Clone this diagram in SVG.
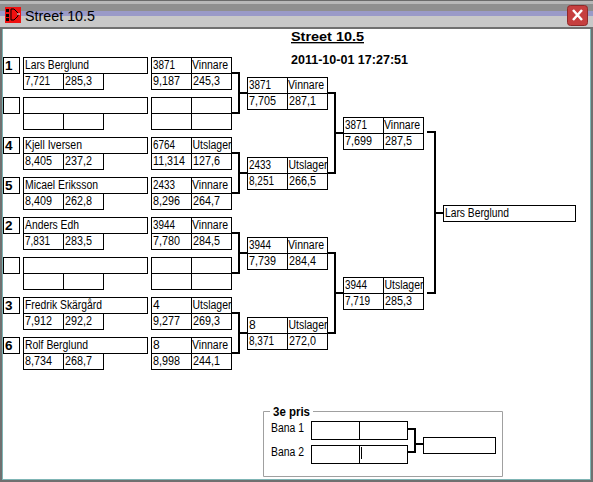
<svg xmlns="http://www.w3.org/2000/svg" width="593" height="482" viewBox="0 0 593 482">
<defs>
<g id="m"><rect class="b" x="0" y="0" width="40" height="16"/><rect class="b" x="40" y="0" width="40" height="16"/><rect class="b" x="0" y="16" width="40" height="16"/><rect class="b" x="40" y="16" width="40" height="16"/></g>
<g id="p"><rect class="b" x="0" y="0" width="124" height="16"/><rect class="b" x="0" y="16" width="40" height="16"/><rect class="b" x="40" y="16" width="40" height="16"/></g>
</defs>
<style>
.b{fill:#fff;stroke:#000;stroke-width:1}
text{font-family:"Liberation Sans",Arial,sans-serif;font-size:12px;fill:#000}
.s{font-weight:bold;font-size:13.500px}
.h{font-weight:bold;font-size:13.500px}
.c{fill:none;stroke:#000;stroke-width:2}
</style>
<g id="window">
<rect x="0" y="0" width="593" height="482" fill="#fff"/>
<rect x="0" y="0" width="593" height="4" fill="#b8b8b8"/>
<rect x="0" y="0" width="593" height="1" fill="#6a6a6a"/>
<rect x="0" y="4" width="593" height="7" fill="#8f8f8f"/>
<rect x="0" y="11" width="593" height="5" fill="#9a9ac8"/>
<rect x="0" y="16" width="593" height="11" fill="#c8c8c8"/>
<rect x="0" y="27" width="593" height="2" fill="#707070"/>
<rect x="0" y="29" width="2" height="453" fill="#707070"/>
<rect x="2" y="29" width="1" height="451" fill="#7fb5b5"/>
<rect x="591" y="29" width="2" height="453" fill="#707070"/>
<rect x="590" y="29" width="1" height="451" fill="#7fb5b5"/>
<rect x="0" y="480" width="593" height="2" fill="#707070"/>
<rect x="2" y="479" width="589" height="1" fill="#7fb5b5"/>
<rect x="5" y="7" width="16" height="16" fill="#f01010"/>
<path d="M6 9h3v3h-3zM6 14h3v3h-3zM6 18h3v3h-3z" fill="#000"/>
<path d="M11 9h3l4 4v3l-4 4h-3z" fill="none" stroke="#000"/>
<path d="M17 14h3" stroke="#fff"/>
<text x="25" y="21" textLength="70" lengthAdjust="spacingAndGlyphs" style="font-size:14.500px">Street 10.5</text>
<rect x="567.500" y="5.500" width="20" height="20" rx="3" fill="#c63f3f" stroke="#8f2a2a"/>
<path d="M573 10l9 10M582 10l-9 10" stroke="#fff" stroke-width="2.500" fill="none"/>
</g>
<text x="291" y="41" class="s" textLength="73" lengthAdjust="spacingAndGlyphs" text-decoration="underline">Street 10.5</text>
<text x="291" y="64" class="h" textLength="117" lengthAdjust="spacingAndGlyphs" style="font-size:12.500px">2011-10-01 17:27:51</text>
<g id="connectors">
<path class="c" d="M232 73H239V113H232M239 93H247"/>
<path class="c" d="M232 153H239V193H232M239 173H247"/>
<path class="c" d="M232 233H239V273H232M239 253H247"/>
<path class="c" d="M232 313H239V353H232M239 333H247"/>
<path class="c" d="M328 93H335V173H328M335 133H343"/>
<path class="c" d="M328 253H335V333H328M335 293H343"/>
<path class="c" d="M427 132H435V293H427M435 213H443"/>
<path class="c" d="M408 429H415V452H408M415 444H423"/>
</g>
<g id="seed-1"><rect class="b" x="3.500" y="57.500" width="16" height="16"/><text x="5" y="70" class="h">1</text></g>
<g id="player-1"><use href="#p" x="23.500" y="57.500"/><text x="25" y="69" textLength="64" lengthAdjust="spacingAndGlyphs">Lars Berglund</text><text x="25" y="85" textLength="25" lengthAdjust="spacingAndGlyphs">7,721</text><text x="65" y="85" textLength="27" lengthAdjust="spacingAndGlyphs">285,3</text></g>
<g id="result-1"><use href="#m" x="151.500" y="57.500"/><text x="153" y="69" textLength="22" lengthAdjust="spacingAndGlyphs">3871</text><text x="192" y="69" textLength="36" lengthAdjust="spacingAndGlyphs">Vinnare</text><text x="153" y="85" textLength="27" lengthAdjust="spacingAndGlyphs">9,187</text><text x="193" y="85" textLength="27" lengthAdjust="spacingAndGlyphs">245,3</text></g>
<g id="seed-2"><rect class="b" x="3.500" y="97.500" width="16" height="16"/></g>
<g id="player-2"><use href="#p" x="23.500" y="97.500"/></g>
<g id="result-2"><use href="#m" x="151.500" y="97.500"/></g>
<g id="seed-3"><rect class="b" x="3.500" y="137.500" width="16" height="16"/><text x="5" y="150" class="h">4</text></g>
<g id="player-3"><use href="#p" x="23.500" y="137.500"/><text x="25" y="149" textLength="57" lengthAdjust="spacingAndGlyphs">Kjell Iversen</text><text x="25" y="165" textLength="27" lengthAdjust="spacingAndGlyphs">8,405</text><text x="65" y="165" textLength="27" lengthAdjust="spacingAndGlyphs">237,2</text></g>
<g id="result-3"><use href="#m" x="151.500" y="137.500"/><text x="153" y="149" textLength="22" lengthAdjust="spacingAndGlyphs">6764</text><text x="192.500" y="149" textLength="39" lengthAdjust="spacingAndGlyphs">Utslager</text><text x="153" y="165" textLength="32" lengthAdjust="spacingAndGlyphs">11,314</text><text x="193" y="165" textLength="27" lengthAdjust="spacingAndGlyphs">127,6</text></g>
<g id="seed-4"><rect class="b" x="3.500" y="177.500" width="16" height="16"/><text x="5" y="190" class="h">5</text></g>
<g id="player-4"><use href="#p" x="23.500" y="177.500"/><text x="25" y="189" textLength="73" lengthAdjust="spacingAndGlyphs">Micael Eriksson</text><text x="25" y="205" textLength="27" lengthAdjust="spacingAndGlyphs">8,409</text><text x="65" y="205" textLength="27" lengthAdjust="spacingAndGlyphs">262,8</text></g>
<g id="result-4"><use href="#m" x="151.500" y="177.500"/><text x="153" y="189" textLength="22" lengthAdjust="spacingAndGlyphs">2433</text><text x="192" y="189" textLength="36" lengthAdjust="spacingAndGlyphs">Vinnare</text><text x="153" y="205" textLength="27" lengthAdjust="spacingAndGlyphs">8,296</text><text x="193" y="205" textLength="27" lengthAdjust="spacingAndGlyphs">264,7</text></g>
<g id="seed-5"><rect class="b" x="3.500" y="217.500" width="16" height="16"/><text x="5" y="230" class="h">2</text></g>
<g id="player-5"><use href="#p" x="23.500" y="217.500"/><text x="25" y="229" textLength="54" lengthAdjust="spacingAndGlyphs">Anders Edh</text><text x="25" y="245" textLength="25" lengthAdjust="spacingAndGlyphs">7,831</text><text x="65" y="245" textLength="27" lengthAdjust="spacingAndGlyphs">283,5</text></g>
<g id="result-5"><use href="#m" x="151.500" y="217.500"/><text x="153" y="229" textLength="22" lengthAdjust="spacingAndGlyphs">3944</text><text x="192" y="229" textLength="36" lengthAdjust="spacingAndGlyphs">Vinnare</text><text x="153" y="245" textLength="27" lengthAdjust="spacingAndGlyphs">7,780</text><text x="193" y="245" textLength="27" lengthAdjust="spacingAndGlyphs">284,5</text></g>
<g id="seed-6"><rect class="b" x="3.500" y="257.500" width="16" height="16"/></g>
<g id="player-6"><use href="#p" x="23.500" y="257.500"/></g>
<g id="result-6"><use href="#m" x="151.500" y="257.500"/></g>
<g id="seed-7"><rect class="b" x="3.500" y="297.500" width="16" height="16"/><text x="5" y="310" class="h">3</text></g>
<g id="player-7"><use href="#p" x="23.500" y="297.500"/><text x="25" y="309" textLength="77" lengthAdjust="spacingAndGlyphs">Fredrik Skärgård</text><text x="25" y="325" textLength="27" lengthAdjust="spacingAndGlyphs">7,912</text><text x="65" y="325" textLength="27" lengthAdjust="spacingAndGlyphs">292,2</text></g>
<g id="result-7"><use href="#m" x="151.500" y="297.500"/><text x="153" y="309">4</text><text x="192.500" y="309" textLength="39" lengthAdjust="spacingAndGlyphs">Utslager</text><text x="153" y="325" textLength="27" lengthAdjust="spacingAndGlyphs">9,277</text><text x="193" y="325" textLength="27" lengthAdjust="spacingAndGlyphs">269,3</text></g>
<g id="seed-8"><rect class="b" x="3.500" y="337.500" width="16" height="16"/><text x="5" y="350" class="h">6</text></g>
<g id="player-8"><use href="#p" x="23.500" y="337.500"/><text x="25" y="349" textLength="63" lengthAdjust="spacingAndGlyphs">Rolf Berglund</text><text x="25" y="365" textLength="27" lengthAdjust="spacingAndGlyphs">8,734</text><text x="65" y="365" textLength="27" lengthAdjust="spacingAndGlyphs">268,7</text></g>
<g id="result-8"><use href="#m" x="151.500" y="337.500"/><text x="153" y="349">8</text><text x="192" y="349" textLength="36" lengthAdjust="spacingAndGlyphs">Vinnare</text><text x="153" y="365" textLength="27" lengthAdjust="spacingAndGlyphs">8,998</text><text x="193" y="365" textLength="27" lengthAdjust="spacingAndGlyphs">244,1</text></g>
<g id="semi-1"><use href="#m" x="247.500" y="77.500"/><text x="249" y="89" textLength="22" lengthAdjust="spacingAndGlyphs">3871</text><text x="288" y="89" textLength="36" lengthAdjust="spacingAndGlyphs">Vinnare</text><text x="249" y="105" textLength="27" lengthAdjust="spacingAndGlyphs">7,705</text><text x="289" y="105" textLength="27" lengthAdjust="spacingAndGlyphs">287,1</text></g>
<g id="semi-2"><use href="#m" x="247.500" y="157.500"/><text x="249" y="169" textLength="22" lengthAdjust="spacingAndGlyphs">2433</text><text x="288.500" y="169" textLength="39" lengthAdjust="spacingAndGlyphs">Utslager</text><text x="249" y="185" textLength="25" lengthAdjust="spacingAndGlyphs">8,251</text><text x="289" y="185" textLength="27" lengthAdjust="spacingAndGlyphs">266,5</text></g>
<g id="semi-3"><use href="#m" x="247.500" y="237.500"/><text x="249" y="249" textLength="22" lengthAdjust="spacingAndGlyphs">3944</text><text x="288" y="249" textLength="36" lengthAdjust="spacingAndGlyphs">Vinnare</text><text x="249" y="265" textLength="27" lengthAdjust="spacingAndGlyphs">7,739</text><text x="289" y="265" textLength="27" lengthAdjust="spacingAndGlyphs">284,4</text></g>
<g id="semi-4"><use href="#m" x="247.500" y="317.500"/><text x="249" y="329">8</text><text x="288.500" y="329" textLength="39" lengthAdjust="spacingAndGlyphs">Utslager</text><text x="249" y="345" textLength="25" lengthAdjust="spacingAndGlyphs">8,371</text><text x="289" y="345" textLength="27" lengthAdjust="spacingAndGlyphs">272,0</text></g>
<g id="final-1"><use href="#m" x="343.500" y="117.500"/><text x="345" y="129" textLength="22" lengthAdjust="spacingAndGlyphs">3871</text><text x="384" y="129" textLength="36" lengthAdjust="spacingAndGlyphs">Vinnare</text><text x="345" y="145" textLength="27" lengthAdjust="spacingAndGlyphs">7,699</text><text x="385" y="145" textLength="27" lengthAdjust="spacingAndGlyphs">287,5</text></g>
<g id="final-2"><use href="#m" x="343.500" y="277.500"/><text x="345" y="289" textLength="22" lengthAdjust="spacingAndGlyphs">3944</text><text x="384.500" y="289" textLength="39" lengthAdjust="spacingAndGlyphs">Utslager</text><text x="345" y="305" textLength="25" lengthAdjust="spacingAndGlyphs">7,719</text><text x="385" y="305" textLength="27" lengthAdjust="spacingAndGlyphs">285,3</text></g>
<g id="winner"><rect class="b" x="443.500" y="205.500" width="132" height="16"/><text x="445" y="217" textLength="64" lengthAdjust="spacingAndGlyphs">Lars Berglund</text></g>
<g id="third-prize">
<path d="M270 411.500H263.500V476.500H502.500V411.500H313" fill="none" stroke="#a0a0a0"/>
<text x="273" y="416" class="h" style="font-size:12.500px" textLength="37" lengthAdjust="spacingAndGlyphs">3e pris</text>
<text x="271" y="432" textLength="33" lengthAdjust="spacingAndGlyphs">Bana 1</text>
<text x="271" y="456" textLength="33" lengthAdjust="spacingAndGlyphs">Bana 2</text>
<rect class="b" x="311.500" y="421.500" width="48" height="18"/><rect class="b" x="359.500" y="421.500" width="48" height="18"/>
<rect class="b" x="311.500" y="445.500" width="48" height="18"/><rect class="b" x="359.500" y="445.500" width="48" height="18"/>
<path d="M361.500 447V459" stroke="#000"/>
<rect class="b" x="423.500" y="437.500" width="72" height="16"/>
</g>
</svg>
